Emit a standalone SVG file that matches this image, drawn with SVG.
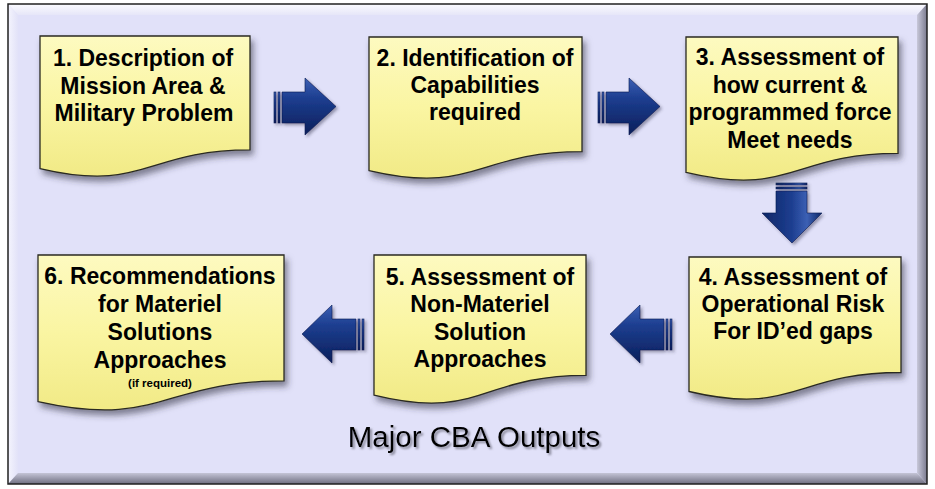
<svg xmlns="http://www.w3.org/2000/svg" width="935" height="489" viewBox="0 0 935 489">
<defs>
<linearGradient id="gBox" x1="0" y1="0" x2="0" y2="1">
<stop offset="0" stop-color="#fdfac0"/>
<stop offset="0.5" stop-color="#faf5a2"/>
<stop offset="1" stop-color="#f1ea86"/>
</linearGradient>
<linearGradient id="gArrH" x1="0" y1="0" x2="0" y2="1">
<stop offset="0" stop-color="#3c60b4"/>
<stop offset="0.35" stop-color="#1d3e90"/>
<stop offset="1" stop-color="#0a1f5a"/>
</linearGradient>
<linearGradient id="gArrV" x1="0" y1="0" x2="1" y2="0">
<stop offset="0" stop-color="#0e2766"/>
<stop offset="0.5" stop-color="#1d3e90"/>
<stop offset="0.75" stop-color="#3c60b4"/>
<stop offset="1" stop-color="#0e2766"/>
</linearGradient>
<linearGradient id="gTop" x1="0" y1="0" x2="0" y2="1">
<stop offset="0" stop-color="#fbfbff"/>
<stop offset="1" stop-color="#e6e6f8"/>
</linearGradient>
<linearGradient id="gLeft" x1="0" y1="0" x2="1" y2="0">
<stop offset="0" stop-color="#f4f4fd"/>
<stop offset="1" stop-color="#e2e2f8"/>
</linearGradient>
<linearGradient id="gBot" x1="0" y1="0" x2="0" y2="1">
<stop offset="0" stop-color="#c4c4d6"/>
<stop offset="1" stop-color="#6e6e80"/>
</linearGradient>
<linearGradient id="gRight" x1="0" y1="0" x2="1" y2="0">
<stop offset="0" stop-color="#c8c8da"/>
<stop offset="1" stop-color="#7a7a8e"/>
</linearGradient>
<filter id="shBox" x="-10%" y="-10%" width="130%" height="140%">
<feDropShadow dx="3" dy="5" stdDeviation="3" flood-color="#303040" flood-opacity="0.55"/>
</filter>
<filter id="shArr" x="-20%" y="-20%" width="150%" height="150%">
<feDropShadow dx="2" dy="2" stdDeviation="1.5" flood-color="#303050" flood-opacity="0.45"/>
</filter>
<filter id="shTxt" x="-5%" y="-20%" width="110%" height="150%">
<feDropShadow dx="2" dy="2" stdDeviation="1" flood-color="#707080" flood-opacity="0.8"/>
</filter>
</defs>
<style>
.box{fill:url(#gBox);stroke:#2a2a20;stroke-width:1.3;filter:url(#shBox)}
.hl{fill:none;stroke:#fffde0;stroke-width:2;opacity:0.7}
.lbl{font-family:"Liberation Sans",Arial,sans-serif;font-weight:bold;font-size:23px;fill:#000;text-anchor:middle}
.small{font-size:11.5px}
.title{font-family:"Liberation Sans",Arial,sans-serif;font-size:29.5px;fill:#000;text-anchor:middle;filter:url(#shTxt)}
.ah{fill:url(#gArrH);stroke:#0a1a50;stroke-width:0.6}
.av{fill:url(#gArrV);stroke:#0a1a50;stroke-width:0.6}
</style>

<g id="frame">
<rect x="8" y="4" width="919" height="480" fill="#e1e1f9"/>
<polygon points="8,4 927,4 917,15 18,15" fill="url(#gTop)"/>
<polygon points="8,4 18,15 18,473 8,484" fill="url(#gLeft)"/>
<polygon points="8,484 18,473 917,473 927,484" fill="url(#gBot)"/>
<polygon points="927,4 927,484 917,473 917,15" fill="url(#gRight)"/>
<rect x="8" y="4" width="919" height="480" fill="none" stroke="#202020" stroke-width="1.5"/>
</g>

<g id="connectors">
<g filter="url(#shArr)">
<rect class="ah" x="274" y="92" width="2" height="31"/>
<rect class="ah" x="278" y="92" width="2" height="31"/>
<polygon class="ah" points="282,92 305,92 305,78 336,106.5 305,135 305,123 282,123"/>
</g>
<g filter="url(#shArr)">
<rect class="ah" x="598" y="92" width="2" height="31"/>
<rect class="ah" x="602" y="92" width="2" height="31"/>
<polygon class="ah" points="606,92 629,92 629,78 660,106.5 629,135 629,123 606,123"/>
</g>
<g filter="url(#shArr)">
<rect class="av" x="776" y="183" width="31" height="2"/>
<rect class="av" x="776" y="187" width="31" height="2"/>
<polygon class="av" points="776,191 807,191 807,213 822,213 792,243 762,213 776,213"/>
</g>
<g filter="url(#shArr)">
<rect class="ah" x="670" y="319" width="2" height="31"/>
<rect class="ah" x="666" y="319" width="2" height="31"/>
<polygon class="ah" points="664,319 640,319 640,305 610,334 640,363 640,350 664,350"/>
</g>
<g filter="url(#shArr)">
<rect class="ah" x="362" y="319" width="2" height="31"/>
<rect class="ah" x="358" y="319" width="2" height="31"/>
<polygon class="ah" points="356,319 332,319 332,305 302,334 332,363 332,350 356,350"/>
</g>
</g>

<g id="node1">
<path class="box" d="M40,36 H250 V149.9 C145,149.9 145,193.3 40,168.6 Z"/>
<text class="lbl" x="143" y="66">1. Description of</text>
<text class="lbl" x="143" y="93.5">Mission Area &amp;</text>
<text class="lbl" x="144" y="120.5">Military Problem</text>
</g>

<g id="node2">
<path class="box" d="M369,37 H582 V151.7 C475.5,151.7 475.5,195.4 369,170.6 Z"/>
<text class="lbl" x="475" y="66">2. Identification of</text>
<text class="lbl" x="475" y="93">Capabilities</text>
<text class="lbl" x="475" y="120">required</text>
</g>

<g id="node3">
<path class="box" d="M686,37 H898 V153.3 C792,153.3 792,197.6 686,172.4 Z"/>
<text class="lbl" x="790" y="65">3. Assessment of</text>
<text class="lbl" x="790" y="92.5">how current &amp;</text>
<text class="lbl" x="790" y="120">programmed force</text>
<text class="lbl" x="790" y="147.5">Meet needs</text>
</g>

<g id="node4">
<path class="box" d="M689,257 H901 V372.5 C795,372.5 795,416.5 689,391.5 Z"/>
<text class="lbl" x="793" y="285">4. Assessment of</text>
<text class="lbl" x="793" y="312">Operational Risk</text>
<text class="lbl" x="793" y="339">For ID’ed gaps</text>
</g>

<g id="node5">
<path class="box" d="M374,255 H586 V375.3 C480,375.3 480,421.1 374,395.1 Z"/>
<text class="lbl" x="480" y="285">5. Assessment of</text>
<text class="lbl" x="480" y="312">Non-Materiel</text>
<text class="lbl" x="480" y="339.5">Solution</text>
<text class="lbl" x="480" y="367">Approaches</text>
</g>

<g id="node6">
<path class="box" d="M38,255 H284 V380.9 C161,380.9 161,428.9 38,401.6 Z"/>
<text class="lbl" x="160" y="284">6. Recommendations</text>
<text class="lbl" x="160" y="312">for Materiel</text>
<text class="lbl" x="160" y="340">Solutions</text>
<text class="lbl" x="160" y="368">Approaches</text>
<text class="lbl small" x="160" y="387">(if required)</text>
</g>

<g id="title">
<text class="title" x="474" y="447">Major CBA Outputs</text>
</g>
</svg>
